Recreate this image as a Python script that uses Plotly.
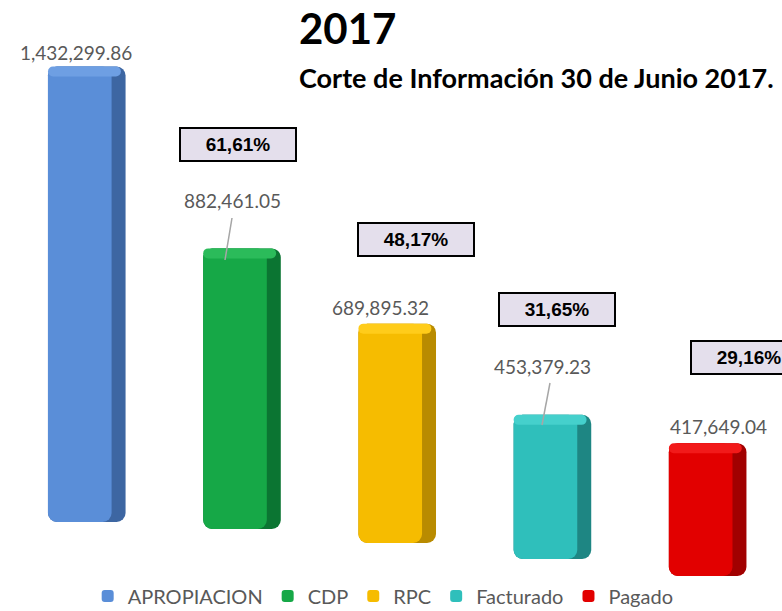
import plotly.graph_objects as go

# Chart data
categories = ["APROPIACION", "CDP", "RPC", "Facturado", "Pagado"]
values = [1432299.86, 882461.05, 689895.32, 453379.23, 417649.04]
title_year = "2017"
subtitle = "Corte de Información 30 de Junio 2017."

# Styles
face_colors = ["#5A8ED8", "#16A847", "#F6BC00", "#2FBFBB", "#E20000"]
side_colors = ["#3D66A2", "#0B7532", "#B98B00", "#1E8683", "#A10000"]
cap_colors = ["#6E9FE3", "#2BBB5A", "#FFCC1A", "#45D0CC", "#F21A1A"]

W, H = 782, 611
UPP = 3145.0          # data units per pixel on the y axis
Y0_PX = 522           # pixel row of y = 0
depth_px = [0, 7, 21, 37, 54]   # fake 3D depth: each bar sits a bit lower
ymin = -(H - Y0_PX) * UPP
ymax = ymin + H * UPP
xmin, xmax = -0.559, 4.479

LABEL_FONT = dict(family="Lato", size=19, color="#595959")


def px_x(px):
    return px / W


def px_y(py):
    return 1 - py / H


fig = go.Figure()

for i, (cat, v) in enumerate(zip(categories, values)):
    base = -depth_px[i] * UPP
    # darker right side
    fig.add_trace(go.Bar(
        x=[i], y=[v], base=[base], width=0.5, offset=-0.25,
        marker=dict(color=side_colors[i], cornerradius=9, line_width=0),
        showlegend=False, hoverinfo="skip",
    ))
    # front face
    fig.add_trace(go.Bar(
        x=[i], y=[v], base=[base], width=0.41, offset=-0.25,
        marker=dict(color=face_colors[i], cornerradius=9, line_width=0),
        name=cat, hoverinfo="skip",
    ))
    # lighter top cap
    cap = 10 * UPP
    fig.add_trace(go.Bar(
        x=[i], y=[cap], base=[base + v - cap], width=0.47, offset=-0.25,
        marker=dict(color=cap_colors[i], cornerradius=6, line_width=0),
        showlegend=False, hoverinfo="skip",
    ))

annotations = []

# value labels
label_pos = [(76, 52), (232, 201), (380, 307), (542, 366), (718, 426)]
for v, (lx, ly) in zip(values, label_pos):
    annotations.append(dict(
        x=px_x(lx), y=px_y(ly), xref="paper", yref="paper",
        text=f"{v:,.2f}", showarrow=False, font=LABEL_FONT,
        xanchor="center", yanchor="middle",
    ))

# leader lines
shapes = [
    dict(type="line", xref="paper", yref="paper",
         x0=px_x(232), y0=px_y(218), x1=px_x(225), y1=px_y(260),
         line=dict(color="#A6A6A6", width=1.5)),
    dict(type="line", xref="paper", yref="paper",
         x0=px_x(550), y0=px_y(383), x1=px_x(542), y1=px_y(425),
         line=dict(color="#A6A6A6", width=1.5)),
]

# percentage boxes (share of APROPIACION)
box_pos = [(238, 145), (416, 240), (557, 309), (749, 357)]
for v, (bx, by) in zip(values[1:], box_pos):
    pct = f"{v / values[0] * 100:.2f}%".replace(".", ",")
    annotations.append(dict(
        x=px_x(bx), y=px_y(by), xref="paper", yref="paper",
        text=f"<b>{pct}</b>", showarrow=False,
        font=dict(family="Liberation Sans", size=19, color="#000000"),
        bgcolor="#E4DFEC", bordercolor="#000000", borderwidth=2, borderpad=1,
        width=112, height=29, align="center", valign="middle",
        xanchor="center", yanchor="middle",
    ))

# titles
annotations.append(dict(
    x=px_x(297), y=px_y(28), xref="paper", yref="paper",
    text=f"<b>{title_year}</b>", showarrow=False,
    font=dict(family="Lato", size=42, color="#000000"),
    xanchor="left", yanchor="middle",
))
annotations.append(dict(
    x=px_x(297), y=px_y(77), xref="paper", yref="paper",
    text=f"<b>{subtitle}</b>", showarrow=False,
    font=dict(family="Lato", size=27, color="#000000"),
    xanchor="left", yanchor="middle",
))

fig.update_layout(
    width=W, height=H,
    margin=dict(l=0, r=0, t=0, b=0, autoexpand=False),
    paper_bgcolor="white", plot_bgcolor="white",
    barmode="overlay",
    xaxis=dict(visible=False, range=[xmin, xmax], fixedrange=True),
    yaxis=dict(visible=False, range=[ymin, ymax], fixedrange=True),
    showlegend=True,
    legend=dict(
        orientation="h", x=0.49, xanchor="center", y=px_y(596), yanchor="middle",
        font=dict(family="Lato", size=20, color="#595959"),
        bgcolor="rgba(0,0,0,0)", itemwidth=30,
    ),
    annotations=annotations,
    shapes=shapes,
)

fig.write_html(
    "out.html",
    config={"displayModeBar": False},
    post_script="document.body.style.margin='0px';",
)
